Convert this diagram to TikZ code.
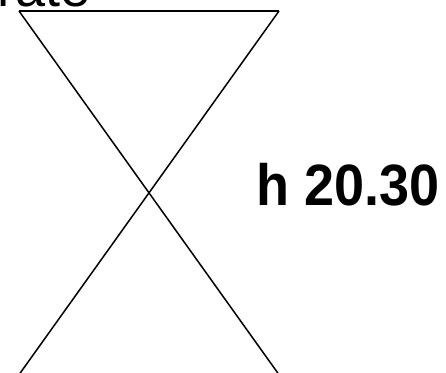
\documentclass[tikz,border=0pt]{standalone}
\usepackage{fontspec}
\setmainfont{Liberation Sans}
\begin{document}
\begin{tikzpicture}[x=1pt,y=-1pt,line width=1.5pt,
  lbl/.style={inner sep=0pt,anchor=base west,font=\fontsize{54}{60}\selectfont}]
\useasboundingbox (0,0) rectangle (446,372);
\clip (0,0) rectangle (446,372);
\coordinate (tl) at (19,11);
\coordinate (tr) at (279,11);
\coordinate (bl) at (19.5,374);
\coordinate (br) at (278.5,374);
\draw (tl) -- (tr);
\draw (tl) -- (br);
\draw (tr) -- (bl);
\node[lbl] (rate) at (-3,6) {rate};
\node[lbl,font=\fontsize{54}{60}\selectfont\bfseries] (h) at (256,205) {\scalebox{1}[1.08]{h 20.30}};
\end{tikzpicture}
\end{document}
